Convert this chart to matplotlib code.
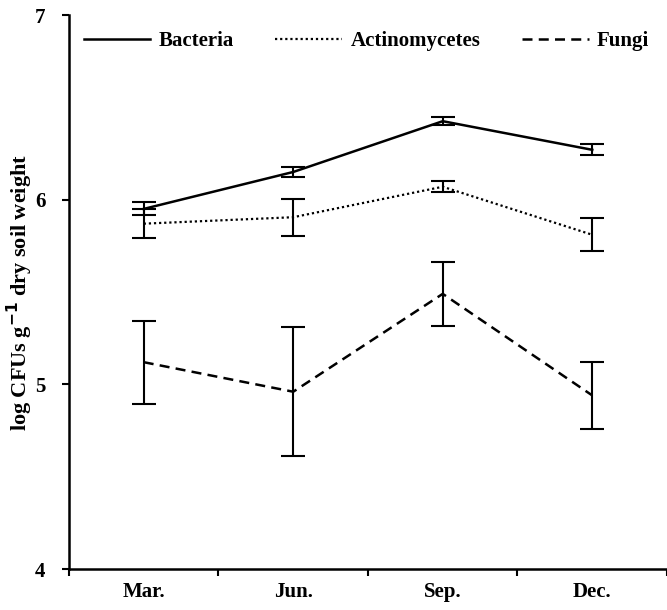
import matplotlib.pyplot as plt
import numpy as np

months = ['Mar.', 'Jun.', 'Sep.', 'Dec.']

bacteria = [5.95, 6.15, 6.425, 6.27]
bacteria_err = [0.035, 0.025, 0.02, 0.03]

actino = [5.87, 5.905, 6.07, 5.81]
actino_err = [0.08, 0.10, 0.03, 0.09]

fungi = [5.12, 4.96, 5.49, 4.94]
fungi_err = [0.225, 0.35, 0.175, 0.18]

plt.rcParams['font.family'] = ['Liberation Serif', 'DejaVu Serif']
plt.rcParams['font.weight'] = 'bold'

fig = plt.figure(figsize=(6.67, 6.1), dpi=100)
ax = fig.add_axes([0.1034, 0.0672, 0.8966, 0.9082])

x = np.arange(len(months)) + 0.5

ax.errorbar(x, bacteria, yerr=bacteria_err, color='black', lw=1.8,
            ls='-', capsize=8.5, elinewidth=1.5, capthick=1.5, label='Bacteria')
ax.errorbar(x, actino, yerr=actino_err, color='black', lw=1.6,
            ls=(0, (1, 1.3)), capsize=8.5, elinewidth=1.5, capthick=1.5,
            label='Actinomycetes')
ax.errorbar(x, fungi, yerr=fungi_err, color='black', lw=1.8,
            ls=(0, (4, 2.5)), capsize=8.5, elinewidth=1.5, capthick=1.5,
            label='Fungi')

ax.set_xlim(0, 4)
ax.set_ylim(4, 7)
ax.set_yticks([4, 5, 6, 7])
ax.set_xticks([0, 1, 2, 3, 4])
ax.set_xticklabels([])
ax.set_xticks(x, minor=True)
ax.set_xticklabels(months, minor=True)
ax.tick_params(axis='x', which='minor', length=0, pad=9, labelsize=15)
ax.tick_params(axis='x', which='major', length=5, width=1.5, direction='out')
ax.tick_params(axis='y', length=5, width=1.5, direction='out', labelsize=15, pad=12)

for s in ['top', 'right']:
    ax.spines[s].set_visible(False)
for s in ['left', 'bottom']:
    ax.spines[s].set_linewidth(1.8)

ax.set_ylabel('log CFUs g$^{\\mathbf{-1}}$ dry soil weight', fontsize=16,
              fontweight='bold', labelpad=0)

handles, labels = ax.get_legend_handles_labels()
handles = [h[0] for h in handles]
ax.legend(handles, labels, loc='center left', bbox_to_anchor=(0.0, 0.953),
          ncol=3, frameon=False, handlelength=3.2,
          columnspacing=2.0, handletextpad=0.4, borderaxespad=0.3,
          prop={'weight': 'bold', 'size': 15})

fig.savefig('out.png', dpi=100)
